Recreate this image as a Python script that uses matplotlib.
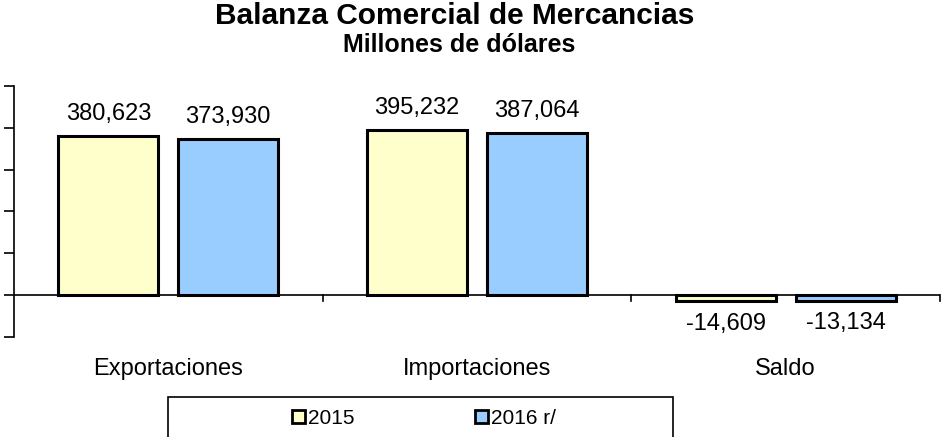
import matplotlib
matplotlib.use("Agg")
import matplotlib.pyplot as plt
from matplotlib.patches import Rectangle
import numpy as np

categories = ["Exportaciones", "Importaciones", "Saldo"]
series_names = ["2015", "2016 r/"]
values_2015 = [380623, 395232, -14609]
values_2016 = [373930, 387064, -13134]
colors = ["#FFFFCC", "#99CCFF"]

plt.rcParams['font.family'] = ['Liberation Sans', 'DejaVu Sans']

W, H = 943, 437
fig = plt.figure(figsize=(W/100, H/100), dpi=100)
ax = fig.add_axes([14/W, 100/H, 926/W, 251/H])

x = np.arange(len(categories))
bw = 0.324
off = 0.194
b1 = ax.bar(x - off, values_2015, bw, color=colors[0], edgecolor="black", linewidth=2.2, label=series_names[0], zorder=3)
b2 = ax.bar(x + off, values_2016, bw, color=colors[1], edgecolor="black", linewidth=2.2, label=series_names[1], zorder=3)

ax.set_xlim(-0.5, 2.5)
ax.set_ylim(-100000, 500000)
ax.set_yticks(np.arange(-100000, 500001, 100000))
ax.set_yticklabels([])
ax.tick_params(axis='y', direction='out', length=7, width=1.2, left=True)
for s in ["top", "right", "bottom"]:
    ax.spines[s].set_visible(False)
ax.spines["left"].set_linewidth(1.2)
ax.axhline(0, color="black", linewidth=1.2, zorder=4)
ax.set_xticks([])

# category separator ticks on zero line
for xb in [0.5, 1.5, 2.5]:
    ax.plot([xb, xb], [0, -13000], color="black", linewidth=1.2, clip_on=False)

# category labels
for xi, c in zip(x, categories):
    ax.annotate(c, xy=(xi, 0), xycoords=("data", "figure pixels"),
                xytext=(0, H - 369), textcoords=("offset points", "figure pixels"),
                ha="center", va="center", fontsize=17)

def fmt(v):
    return f"{v:,}"

for bars in (b1, b2):
    for r in bars:
        v = r.get_height()
        cx = r.get_x() + r.get_width()/2
        dy = 16 if v >= 0 else -16
        ax.annotate(fmt(int(v)), xy=(cx, v), xytext=(0, dy), textcoords="offset points",
                    ha="center", va="center", fontsize=17)

fig.text(455/W, 1 - 16/H, "Balanza Comercial de Mercancias", ha="center", va="center",
         fontsize=21.5, fontweight="bold")
fig.text(459/W, 1 - 45/H, "Millones de dólares", ha="center", va="center",
         fontsize=18, fontweight="bold")

leg = fig.legend(handles=[b1, b2], labels=series_names, loc="center",
                 bbox_to_anchor=(424/W, 19/H), ncol=2, frameon=False,
                 fontsize=15, handlelength=0.6, handleheight=0.6,
                 handletextpad=0.15, columnspacing=5.8)
for h in leg.legend_handles:
    h.set_linewidth(2.0)

fig.patches.append(Rectangle((168/W, -5/H), 505/W, 45/H, transform=fig.transFigure,
                             facecolor="none", edgecolor="black", linewidth=1.2))

fig.savefig("out.png", dpi=100)
